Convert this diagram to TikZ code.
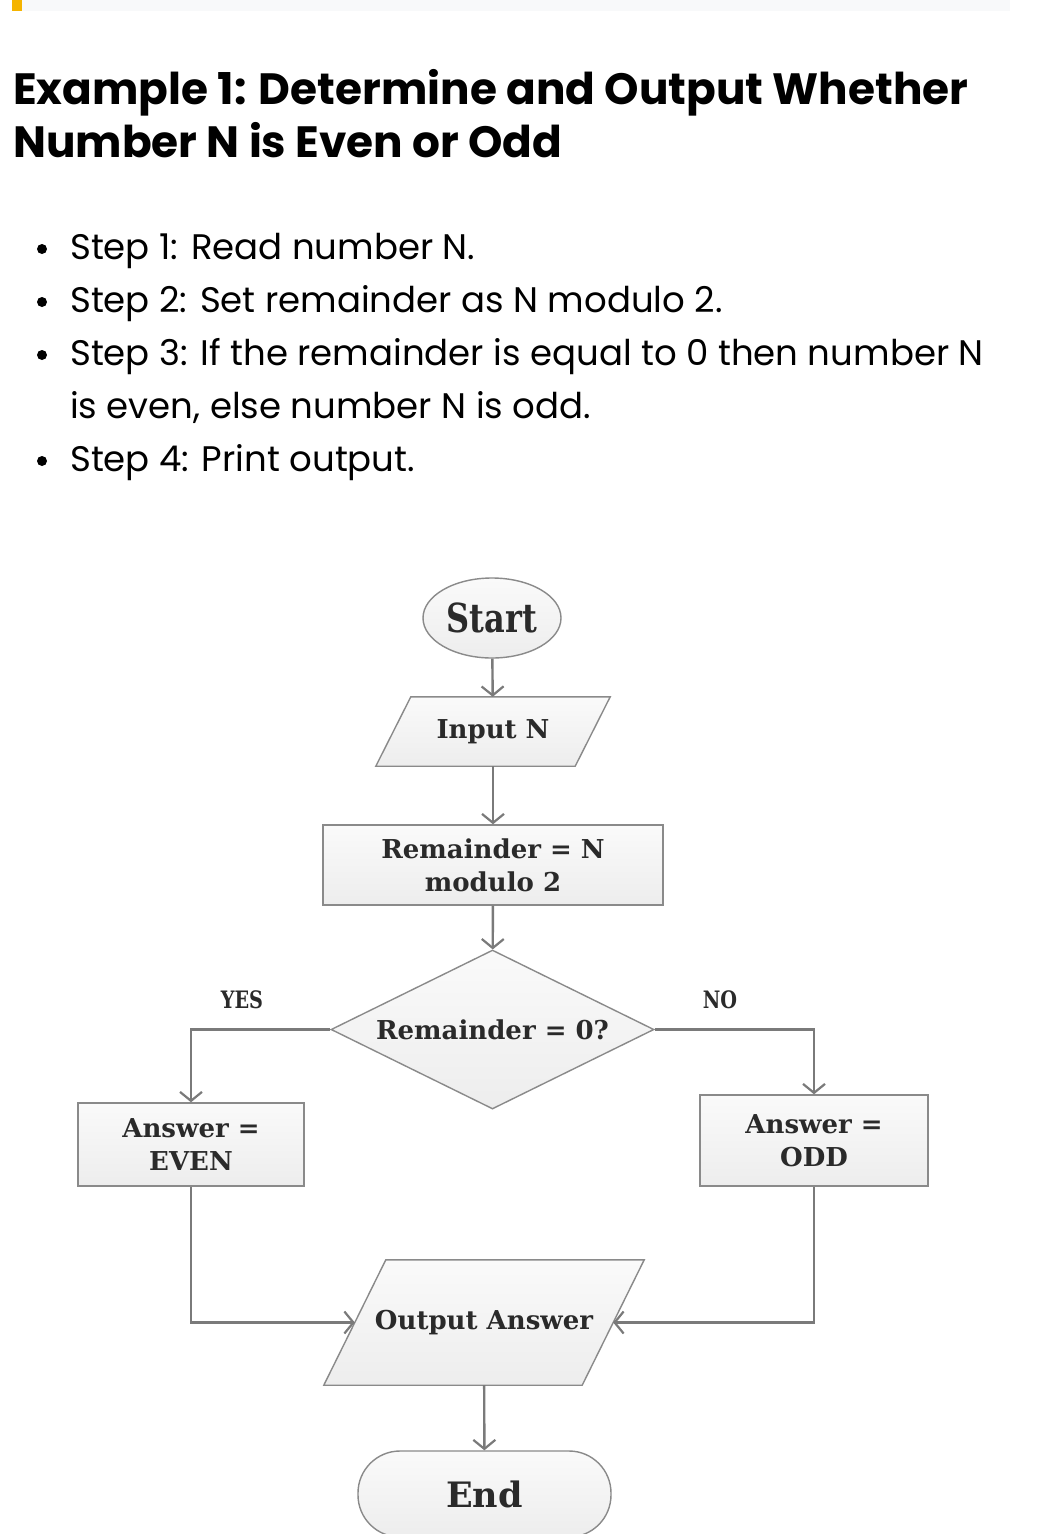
\documentclass[tikz,border=0pt]{standalone}
\usepackage{fontspec}
\usetikzlibrary{shapes.geometric,arrows.meta,backgrounds}
\newfontfamily\popfont{Poppins}
\newfontfamily\fcfont{DejaVu Serif}
\newfontfamily\fccond{DejaVu Serif}[FakeStretch=0.8]
\definecolor{barbg}{HTML}{F8F9FA}
\definecolor{baryel}{HTML}{F5B400}
\definecolor{lnc}{HTML}{7A7A7A}
\definecolor{bdc}{HTML}{8A8A8A}
\definecolor{fctext}{HTML}{2A2A2A}
\definecolor{fillT}{HTML}{FAFAFA}
\definecolor{fillB}{HTML}{EDEDED}
\tikzset{
  titletext/.style={anchor=base west, inner sep=0pt, font=\popfont\bfseries\fontsize{43.8}{53}\selectfont},
  bultext/.style={anchor=base west, inner sep=0pt, font=\popfont\fontsize{35.5}{42}\selectfont},
  fcbase/.style={text=fctext, inner sep=0pt, font=\fcfont\bfseries\fontsize{26}{33}\selectfont, align=center},
  fcshape/.style={fcbase, draw=bdc, line width=1.4pt, top color=fillT, bottom color=fillB},
  parabody/.style={fcbase, rectangle},
  paraline/.style={draw=bdc, line width=1.4pt, top color=fillT, bottom color=fillB},
  arr/.style={draw=lnc, line width=2.4pt, -{Straight Barb[length=9pt,width=22pt,line width=2.2pt]}},
  lbl/.style={inner sep=0pt, text=fctext, font=\fccond\bfseries\fontsize{24}{28}\selectfont},
}
\begin{document}
\begin{tikzpicture}[x=1pt,y=-1pt]
\useasboundingbox (0,0) rectangle (1051,1534);
% top bar
\fill[barbg] (12,0) rectangle (1010,11);
\fill[baryel] (12,0) rectangle (22,11);
% title
\node[titletext] (title1) at (13,104) {Example 1: Determine and Output Whether};
\node[titletext] (title2) at (13,157) {Number N is Even or Odd};
% bullets
\foreach \yy in {249,302,355,461} { \fill[black] (42,\yy) circle (5); }
\node[bultext] (s1) at (70,259) {Step 1: Read number N.};
\node[bultext] (s2) at (70,312) {Step 2: Set remainder as N modulo 2.};
\node[bultext] (s3) at (70,365) {Step 3: If the remainder is equal to 0 then number N};
\node[bultext] (s3b) at (70,418) {is even, else number N is odd.};
\node[bultext] (s4) at (70,471) {Step 4: Print output.};
% flowchart
\node[fcshape, ellipse, minimum width=138, minimum height=80, font=\fccond\bfseries\fontsize{40}{44}\selectfont] (start) at (492,618) {Start};
\node[parabody, minimum width=199, minimum height=69] (inp) at (493,731.5) {Input N};
\node[fcshape, rectangle, minimum width=340, minimum height=80] (rem) at (493,865) {Remainder = N\\modulo 2};
\node[fcshape, diamond, aspect=2.03, minimum width=323, minimum height=159] (dia) at (492.5,1029.5) {Remainder = 0?};
\node[fcshape, rectangle, minimum width=226, minimum height=83] (even) at (191,1144.5) {Answer =\\EVEN};
\node[fcshape, rectangle, minimum width=228, minimum height=91] (odd) at (814,1140.5) {Answer =\\ODD};
\node[parabody, minimum width=258, minimum height=125] (outp) at (484,1322.5) {Output Answer};
\node[fcshape, rectangle, rounded corners=42pt, minimum width=253, minimum height=86, font=\fcfont\bfseries\fontsize{35}{40}\selectfont] (endn) at (484.5,1494) {End};
\begin{scope}[on background layer]
\fill[white] (0,0) rectangle (1051,1534);
\path[paraline] ([xshift=17.5]inp.north west) -- ([xshift=17.5]inp.north east) -- ([xshift=-17.5]inp.south east) -- ([xshift=-17.5]inp.south west) -- cycle;
\path[paraline] ([xshift=31]outp.north west) -- ([xshift=31]outp.north east) -- ([xshift=-31]outp.south east) -- ([xshift=-31]outp.south west) -- cycle;
\end{scope}
% labels
\node[lbl] (yes) at (242,1000) {YES};
\node[lbl] (no) at (720,1000) {NO};
% connectors
\draw[arr] (start) -- (inp);
\draw[arr] (inp) -- (rem);
\draw[arr] (rem) -- (dia);
\draw[arr] (dia.west) -| (even.north);
\draw[arr] (dia.east) -| (odd.north);
\draw[arr] (even.south) |- (outp);
\draw[arr] (odd.south) |- (outp);
\draw[arr] (outp) -- (endn);
\end{tikzpicture}
\end{document}
